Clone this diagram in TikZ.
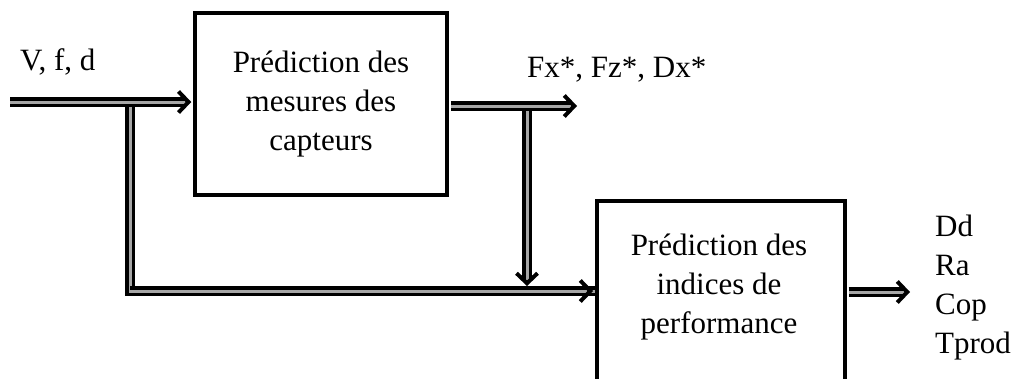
\documentclass[tikz,border=0pt]{standalone}
\usepackage{fontspec}
\setmainfont{Liberation Serif}
\usetikzlibrary{arrows.meta}
\begin{document}
\begin{tikzpicture}[x=1pt,y=-1pt,
  box/.style={draw=black, line width=3.5pt, fill=white, inner sep=0pt},
  txt/.style={font=\fontsize{31}{39}\selectfont, align=center, inner sep=0pt},
  lbl/.style={font=\fontsize{31}{39}\selectfont, inner sep=0pt, anchor=base west},
  dbl/.style={draw=black, line width=3.2pt, double=gray!70, double distance=3pt, line join=miter},
  tip/.style={-{Straight Barb[length=10pt,width=21pt,line width=4pt]}}]
  \clip (0,0) rectangle (1018,378);
  \fill[white] (0,0) rectangle (1018,378);

  % blocks
  \node[box, txt, minimum width=252pt, minimum height=182pt] (b1) at (321,104)
    {Prédiction des\\mesures des\\capteurs};
  \node[box, minimum width=248pt, minimum height=240pt, anchor=north west] (b2) at (595,199) {};
  \node[txt] (t2) at (719,287) {Prédiction des\\indices de\\performance};

  % anchor points of the connectors
  \coordinate (in) at (10,102);
  \coordinate (j1) at (130,102);
  \coordinate (c1) at (130,291);
  \coordinate (o1) at (577,106);
  \coordinate (j2) at (527,106);
  \coordinate (d2) at (527,286);
  \coordinate (o2) at (910,292);

  % connectors
  \draw[dbl] (j1) -- (c1) -- (c1 -| b2.west);
  \draw[dbl, tip] (c1) -- ([xshift=-2pt]c1 -| b2.west);
  \draw[dbl, tip] (in) -- ([xshift=-2pt]in -| b1.west);
  \draw[dbl, tip] (j2) -- (d2);
  \draw[dbl, tip] ([xshift=2pt]o1 -| b1.east) -- (o1);
  \draw[dbl, tip] ([xshift=2pt]o2 -| b2.east) -- (o2);

  % labels
  \node[lbl] (vfd) at (20,70) {V, f, d};
  \node[lbl] (fx) at (527,77) {Fx*, Fz*, Dx*};
  \node[lbl] (dd) at (935,236) {Dd};
  \node[lbl] (ra) at (935,275) {Ra};
  \node[lbl] (cop) at (935,314) {Cop};
  \node[lbl] (tp) at (935,353) {Tprod};
\end{tikzpicture}
\end{document}
